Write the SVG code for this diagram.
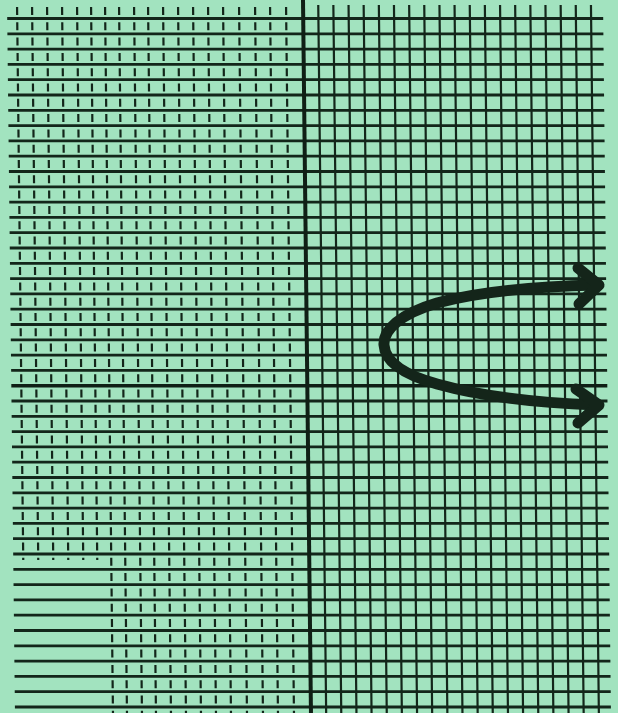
<svg xmlns="http://www.w3.org/2000/svg" width="618" height="713" viewBox="0 0 618 713">
<style>
.bg{fill:#a2e3bf}
.h{stroke:#13261a;stroke-width:2.8;fill:none}
.v{stroke:#13261a;stroke-width:2.2;fill:none}
.vd{stroke:#13261a;stroke-width:2.2;fill:none;stroke-dasharray:8 7.3}
.ax{stroke:#0f1f15;stroke-width:4;fill:none}
.cur{stroke:#14251a;stroke-width:11;fill:none;stroke-linecap:round;stroke-linejoin:round}
</style>
<rect class="bg" x="0" y="0" width="618" height="713"/>
<g id="grid" transform="skewX(0.64)">
<path id="horizontals" class="h" d="M7 18.5H603M7 33.8H603M7 49.1H603M7 64.4H603M7 79.7H603M7 95H603M7 110.3H603M7 125.6H603M7 140.9H603M7 156.2H603M7 171.5H603M7 186.8H603M7 202.1H603M7 217.4H603M7 232.7H603M7 248H603M7 263.3H603M7 278.6H603M7 293.9H603M7 309.2H603M7 324.5H603M7 339.8H603M7 355.1H603M7 370.4H603M7 401H603M7 416.3H603M7 431.6H603M7 446.9H603M7 462.2H603M7 477.5H603M7 492.8H603M7 508.1H603M7 523.4H603M7 538.7H603M7 554H603M7 569.3H603M7 584.6H603M7 599.9H603M7 615.2H603M7 630.5H603M7 645.8H603M7 661.1H603M7 676.4H603M7 691.7H603M7 707H603"/>
<path id="verticals-left" class="vd" d="M17 7V560M32 7V560M47 7V560M62 7V560M77 7V560M91 7V560M105 7V713M119 7V713M134 7V713M148 7V713M163 7V713M178 7V713M193 7V713M208 7V713M223 7V713M239 7V713M255 7V713M270 7V713M286 7V713"/>
<path id="verticals-right" class="v" d="M318.2 5V713M333.3 5V713M348.5 5V713M363.6 5V713M378.8 5V713M393.9 5V713M409.1 5V713M424.2 5V713M439.4 5V713M454.5 5V713M469.7 5V713M484.8 5V713M500 5V713M515.1 5V713M530.3 5V713M545.4 5V713M560.6 5V713M575.7 5V713M590.9 5V713"/>
<g id="axes">
<path id="x-axis" class="ax" d="M7 385.7H603" style="stroke-width:3.4"/>
<path id="y-axis" class="ax" d="M303 0V713"/>
</g>
</g>
<g id="connectors">
<path id="parabola" class="cur" d="M596 285C520 287,470 294,437 303C400 314,383 330,384 345C385 362,405 375,437 384C480 396,540 403,596 405"/>
<path id="arrow-top" class="cur" d="M578 268L599 285L579 304"/>
<path id="arrow-bottom" class="cur" d="M576 389L599 405L578 423"/>
</g>
</svg>
